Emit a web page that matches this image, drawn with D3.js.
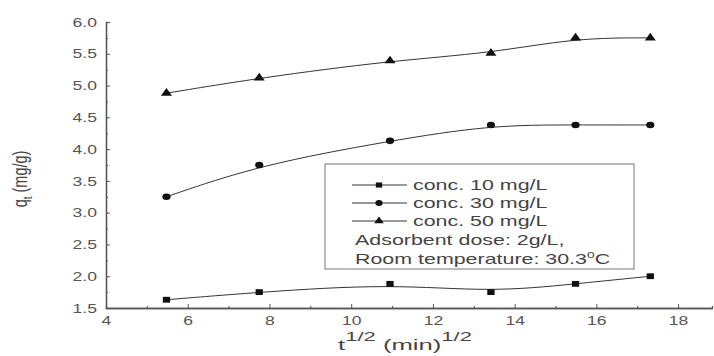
<!DOCTYPE html>
<html>
<head>
<meta charset="utf-8">
<script src="https://cdn.jsdelivr.net/npm/d3@7"></script>
<style>
  body { margin: 0; background: #fff; }
  svg { display: block; font-family: "Liberation Sans", Arial, sans-serif; }
</style>
</head>
<body>
<svg id="chart" width="714" height="356"></svg>
<script>
// sqrt(t) values, t = 30, 60, 120, 180, 240, 300 min
const xValues = [5.48, 7.75, 10.95, 13.42, 15.49, 17.32];
const conc10 = [1.63, 1.75, 1.88, 1.75, 1.88, 2.0];
const conc30 = [3.25, 3.75, 4.13, 4.38, 4.38, 4.38];
const conc50 = [4.88, 5.12, 5.39, 5.51, 5.75, 5.75];
const seriesNames = ["conc. 10 mg/L", "conc. 30 mg/L", "conc. 50 mg/L"];
const xTicks = [4, 6, 8, 10, 12, 14, 16, 18];
const yTicks = [1.5, 2.0, 2.5, 3.0, 3.5, 4.0, 4.5, 5.0, 5.5, 6.0];
const noteLines = ["Adsorbent dose: 2g/L,", "Room temperature: 30.3"];

const svg = d3.select("#chart");
const ink = "#333";
const sx = 1.35; // the original picture is stretched sideways

const x = d3.scaleLinear().domain([4, 18.83]).range([106, 712]);
const y = d3.scaleLinear().domain([1.5, 6]).range([308, 22]);

// axes (ticks pointing inward, like Origin)
svg.append("g")
  .attr("class", "xaxis")
  .attr("transform", `translate(0,${y(1.5)})`)
  .call(d3.axisBottom(x).tickValues(xTicks).tickSizeInner(-4).tickSizeOuter(0).tickPadding(8));
svg.append("g")
  .attr("transform", `translate(0,${y(1.5)})`)
  .call(d3.axisBottom(x).tickValues(d3.range(5, 18, 2)).tickSize(-2).tickFormat(""));

svg.append("g")
  .attr("class", "yaxis")
  .attr("transform", `translate(${x(4)},0)`)
  .call(d3.axisLeft(y).tickValues(yTicks).tickFormat(d3.format(".1f"))
    .tickSizeInner(-4).tickSizeOuter(0));
svg.append("g")
  .attr("transform", `translate(${x(4)},0)`)
  .call(d3.axisLeft(y).tickValues(d3.range(1.75, 6, 0.5)).tickSize(-2).tickFormat(""));

svg.selectAll(".domain").attr("stroke", "#555").attr("stroke-width", 1.3);
svg.selectAll(".tick line").attr("stroke", "#555");
svg.selectAll(".tick text").attr("fill", "#555").attr("font-size", 13);
svg.selectAll(".xaxis .tick text")
  .attr("transform", `scale(${sx},1)`);
svg.selectAll(".yaxis .tick text")
  .attr("x", -9 / sx)
  .attr("transform", `scale(${sx},1)`);

// axis titles
const yTitle = svg.append("text")
  .attr("transform", "translate(27,179) rotate(-90) scale(1,1.35)")
  .attr("text-anchor", "middle")
  .attr("fill", "#444")
  .attr("font-size", 14.5);
yTitle.append("tspan").text("q");
yTitle.append("tspan").attr("font-size", 10).attr("dy", 4).text("t");
yTitle.append("tspan").attr("dy", -4).text(" (mg/g)");

const xTitle = svg.append("text")
  .attr("text-anchor", "middle")
  .attr("fill", "#444")
  .attr("font-size", 14);
xTitle.append("tspan").text("t");
xTitle.append("tspan").attr("font-size", 12).attr("dy", -9).text("1/2");
xTitle.append("tspan").attr("dy", 9).text(" (min)");
xTitle.append("tspan").attr("font-size", 12).attr("dy", -9).text("1/2");
xTitle.attr("transform", `translate(405,350) scale(${134 / xTitle.node().getComputedTextLength()},1)`);

// series
const series = [
  { values: conc10, symbol: d3.symbolSquare },
  { values: conc30, symbol: d3.symbolCircle },
  { values: conc50, symbol: d3.symbolTriangle }
];

const line = d3.line()
  .x((d) => x(d[0]))
  .y((d) => y(d[1]))
  .curve(d3.curveBasis);

series.forEach((s) => {
  const pts = xValues.map((v, i) => [v, s.values[i]]);
  svg.append("path")
    .datum(pts)
    .attr("d", line)
    .attr("fill", "none")
    .attr("stroke", ink)
    .attr("stroke-width", 1);
  svg.selectAll(null)
    .data(pts)
    .join("path")
    .attr("transform", (d) => `translate(${x(d[0])},${y(d[1])}) scale(1.25,1)`)
    .attr("d", d3.symbol().type(s.symbol).size(34))
    .attr("fill", "#111");
});

// legend
const lg = svg.append("g");
lg.append("rect")
  .attr("x", 325).attr("y", 164)
  .attr("width", 309).attr("height", 105)
  .attr("fill", "#fff")
  .attr("stroke", "#777")
  .attr("stroke-width", 1);

const rowY = [185, 203, 221, 240, 259];
const ls = 1.53;
series.forEach((s, i) => {
  lg.append("line")
    .attr("x1", 352).attr("x2", 407)
    .attr("y1", rowY[i]).attr("y2", rowY[i])
    .attr("stroke", ink);
  lg.append("path")
    .attr("transform", `translate(379,${rowY[i]}) scale(1.25,1)`)
    .attr("d", d3.symbol().type(s.symbol).size(26))
    .attr("fill", "#111");
  lg.append("text")
    .attr("transform", `translate(413,${rowY[i] + 5}) scale(${ls},1)`)
    .attr("fill", "#444")
    .attr("font-size", 14)
    .text(seriesNames[i]);
});

noteLines.forEach((t, i) => {
  const txt = lg.append("text")
    .attr("transform", `translate(355,${rowY[3 + i] + 5}) scale(${ls},1)`)
    .attr("fill", "#444")
    .attr("font-size", 14)
    .text(t);
  if (i === 1) {
    txt.append("tspan").attr("font-size", 9).attr("dy", -6).text("0");
    txt.append("tspan").attr("dy", 6).text("C");
  }
});
</script>
</body>
</html>
